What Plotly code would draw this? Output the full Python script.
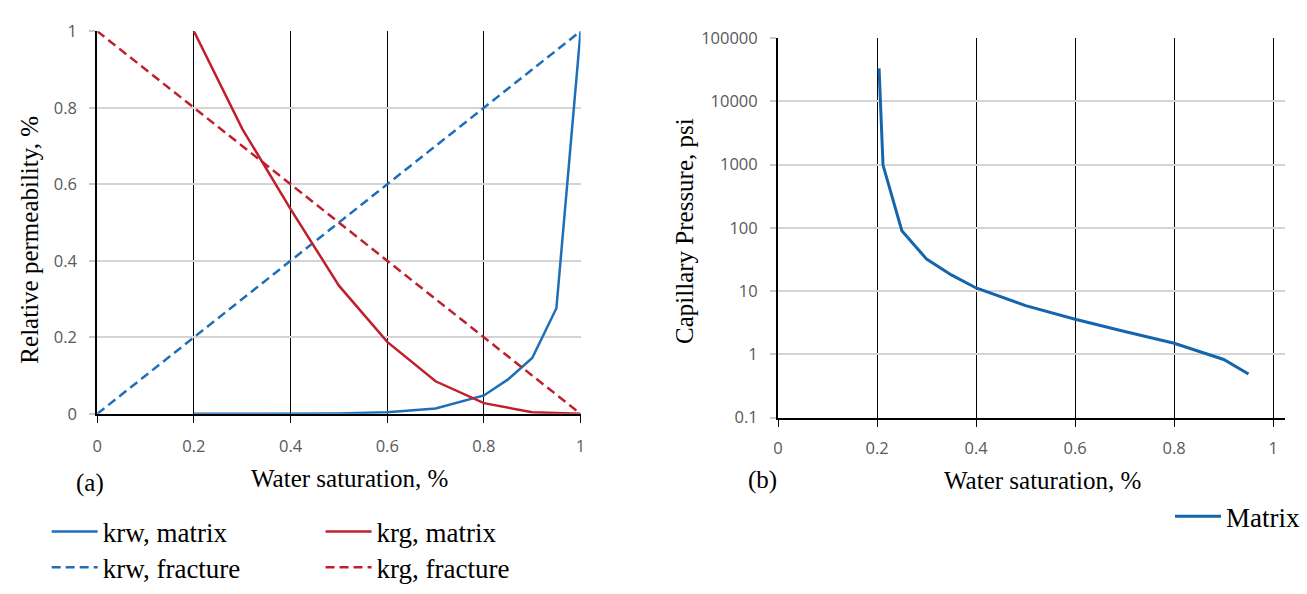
import plotly.graph_objects as go

W, H = 1307, 594

# ---------------- data ----------------
sw_krw_matrix = [0.2, 0.3, 0.4, 0.5, 0.6, 0.7, 0.8, 0.85, 0.9, 0.95, 1.0]
krw_matrix = [0.0, 0.0, 0.0003, 0.001, 0.004, 0.014, 0.048, 0.09, 0.146, 0.276, 1.0]

sw_krg_matrix = [0.2, 0.3, 0.4, 0.5, 0.6, 0.7, 0.8, 0.9, 1.0]
krg_matrix = [1.0, 0.745, 0.535, 0.335, 0.188, 0.085, 0.028, 0.004, 0.0]

sw_fracture = [0.0, 1.0]
krw_fracture = [0.0, 1.0]
krg_fracture = [1.0, 0.0]

sw_pc = [0.204, 0.212, 0.25, 0.30, 0.35, 0.40, 0.50, 0.60, 0.70, 0.80, 0.90, 0.95]
pc_matrix = [33000, 980, 90, 32, 18, 11.2, 5.9, 3.6, 2.3, 1.5, 0.83, 0.49]

x_ticks = [0, 0.2, 0.4, 0.6, 0.8, 1]
x_tick_text = ["0", "0.2", "0.4", "0.6", "0.8", "1"]
kr_ticks = [0, 0.2, 0.4, 0.6, 0.8, 1]
kr_tick_text = ["0", "0.2", "0.4", "0.6", "0.8", "1"]
pc_ticks = [0.1, 1, 10, 100, 1000, 10000, 100000]
pc_tick_text = ["0.1", "1", "10", "100", "1000", "10000", "100000"]

BLUE = "#1f6fb8"
BLUE2 = "#1565ad"
RED = "#c0202c"
SERIF = "Liberation Serif"
SANS = "Open Sans"
TICKC = "#595959"


def px_x(p):
    return p / W


def px_y(p):
    return 1 - p / H


fig = go.Figure()

fig.add_trace(go.Scatter(x=sw_krw_matrix, y=krw_matrix, mode="lines", name="krw, matrix",
                         line=dict(color=BLUE, width=2.5), xaxis="x", yaxis="y",
                         legend="legend"))
fig.add_trace(go.Scatter(x=sw_fracture, y=krw_fracture, mode="lines", name="krw, fracture",
                         line=dict(color=BLUE, width=2.5, dash="9px,5px"), xaxis="x", yaxis="y",
                         legend="legend2"))
fig.add_trace(go.Scatter(x=sw_krg_matrix, y=krg_matrix, mode="lines", name="krg, matrix",
                         line=dict(color=RED, width=2.5), xaxis="x", yaxis="y",
                         legend="legend3"))
fig.add_trace(go.Scatter(x=sw_fracture, y=krg_fracture, mode="lines", name="krg, fracture",
                         line=dict(color=RED, width=2.5, dash="9px,5px"), xaxis="x", yaxis="y",
                         legend="legend4"))
fig.add_trace(go.Scatter(x=sw_pc, y=pc_matrix, mode="lines", name="Matrix",
                         line=dict(color=BLUE2, width=3), xaxis="x2", yaxis="y2",
                         legend="legend5"))

tickfont = dict(family=SANS, size=16.5, color=TICKC)

common_x = dict(showline=True, linecolor="black", linewidth=2, ticks="outside", ticklen=7,
                tickcolor="black", tickwidth=1, showgrid=True, gridcolor="black", gridwidth=1.2,
                zeroline=False, tickfont=tickfont, tickvals=x_ticks, ticktext=x_tick_text)

legfont = dict(family=SERIF, size=27, color="black")


def leg(xp, yp):
    return dict(x=px_x(xp), y=px_y(yp), xanchor="left", yanchor="middle",
                font=legfont, bgcolor="rgba(0,0,0,0)", itemwidth=46)


fig.update_layout(
    width=W, height=H,
    margin=dict(l=0, r=0, t=0, b=0),
    paper_bgcolor="white", plot_bgcolor="white",
    xaxis=dict(domain=[px_x(93), px_x(580)], range=[0, 1], anchor="y",
               ticklabelstandoff=9, **common_x),
    yaxis=dict(domain=[px_y(418), px_y(20)], range=[0, 1], anchor="x",
               showline=True, linecolor="black", linewidth=2, ticks="outside", ticklen=6,
               tickcolor="#c8c8c8", tickwidth=2, showgrid=True, gridcolor="#d4d4d4", gridwidth=2,
               zeroline=False, tickfont=tickfont, tickvals=kr_ticks, ticktext=kr_tick_text,
               ticklabelstandoff=9),
    xaxis2=dict(domain=[px_x(779), px_x(1290)], range=[0, 1.024], anchor="y2",
                ticklabelstandoff=8, **common_x),
    yaxis2=dict(domain=[px_y(422), px_y(27)], type="log", range=[-1, 5], anchor="x2",
                showline=True, linecolor="black", linewidth=2, ticks="outside", ticklen=6,
                tickcolor="#c8c8c8", tickwidth=2, showgrid=True, gridcolor="#d4d4d4", gridwidth=2,
                zeroline=False, tickfont=tickfont, tickvals=pc_ticks, ticktext=pc_tick_text,
                ticklabelstandoff=9),
    legend=leg(42, 541),
    legend2=leg(42, 578),
    legend3=leg(318, 541),
    legend4=leg(318, 578),
    legend5=leg(1174, 525),
    showlegend=True,
)

anns = [
    dict(text="Relative permeability, %", x=px_x(25), y=px_y(237), textangle=-90),
    dict(text="Capillary Pressure, psi", x=px_x(684), y=px_y(228), textangle=-90),
    dict(text="Water saturation, %", x=px_x(347), y=px_y(485)),
    dict(text="Water saturation, %", x=px_x(1046), y=px_y(487)),
    dict(text="(a)", x=px_x(86), y=px_y(490)),
    dict(text="(b)", x=px_x(763), y=px_y(487)),
]
for a in anns:
    fig.add_annotation(xref="paper", yref="paper", showarrow=False, xanchor="center",
                       yanchor="middle", font=dict(family=SERIF, size=25, color="black"), **a)

fig.write_html("out.html")
